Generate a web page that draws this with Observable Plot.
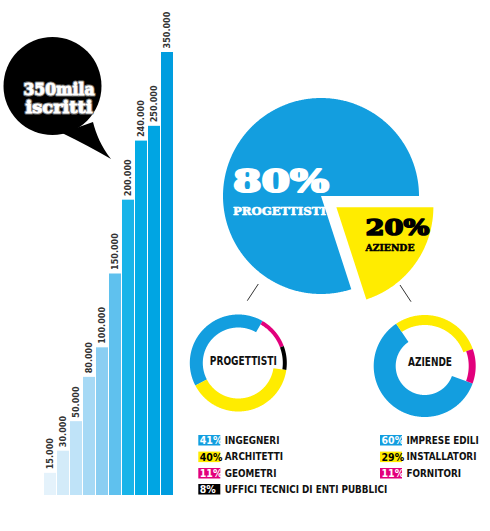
<!DOCTYPE html>
<html><head><meta charset="utf-8">
<script src="https://cdn.jsdelivr.net/npm/d3@7"></script>
<script src="https://cdn.jsdelivr.net/npm/@observablehq/plot@0.6"></script>
<style>
html,body{margin:0;padding:0;background:#fff;}
#wrap{position:relative;width:490px;height:531px;overflow:hidden;background:#fff;}
#wrap > svg{position:absolute;left:0;top:0;}
</style></head><body><div id="wrap"></div>
<script>
// ---------- DATA ----------
const barValues = [15000, 30000, 50000, 80000, 100000, 150000, 200000, 240000, 250000, 350000];
const headline = ["350mila", "iscritti"];
const pieLabels = ["PROGETTISTI", "AZIENDE"];
const pieValues = [80, 20];
const progLabels = ["INGEGNERI", "ARCHITETTI", "GEOMETRI", "UFFICI TECNICI DI ENTI PUBBLICI"];
const progValues = [41, 40, 11, 8];
const azLabels = ["IMPRESE EDILI", "INSTALLATORI", "FORNITORI"];
const azValues = [60, 29, 11];

// ---------- STYLE ----------
const BLUE = "#139edf", YELLOW = "#ffec00", MAGENTA = "#e2007c", BLACK = "#000000";
const barColors = ["#e4f2fb","#d3ebf9","#bfe3f8","#a6d9f5","#8acef2","#5fc1ee","#18b4e9","#03ace6","#00a5e3","#009ddf"];
const NARROW = "'Liberation Sans Narrow','DejaVu Sans Condensed',sans-serif";
const SLAB = "'DejaVu Serif',serif";
const progColors = [BLUE, YELLOW, MAGENTA, BLACK];
const progRing = [13, 13, 4, 4];
const progOrder = [0, 2, 3, 1];
const azColors = [BLUE, YELLOW, MAGENTA];
const azRing = [22, 10, 7];
const azOrder = [0, 1, 2];
const badgeText = c => (c === YELLOW ? "#000" : "#fff");

const fmt = d3.formatLocale({decimal: ",", thousands: ".", grouping: [3], currency: ["", "€"]}).format(",d");
const wrap = document.getElementById("wrap");

// ---------- BARS ----------
const bars = barValues.map((v, i) => ({i, v, label: fmt(v)}));
const barPlot = Plot.plot({
  width: 190, height: 531,
  marginLeft: 41, marginRight: 14.5, marginTop: 52, marginBottom: 36,
  x: {type: "band", domain: d3.range(barValues.length), paddingInner: 0.1, paddingOuter: 0, axis: null},
  y: {domain: [0, 300000], clamp: true, axis: null},
  color: {type: "identity"},
  style: {background: "none", overflow: "visible"},
  marks: [
    Plot.barY(bars, {x: "i", y: "v", fill: d => barColors[d.i]}),
    Plot.text(bars, {x: "i", y: "v", text: "label", rotate: -90, textAnchor: "start", lineAnchor: "middle",
      dy: -4, fontSize: 9, fontWeight: "bold", fontFamily: NARROW, fill: "#333"})
  ]
});
wrap.appendChild(barPlot);

// ---------- PIE & DONUTS (geometry derived from values) ----------
function arcRows(id, segs, startDeg, cx, cy) {
  const total = d3.sum(segs, s => s.value);
  let a = startDeg;
  const rows = [];
  segs.forEach((s, k) => {
    const a0 = a, a1 = a + 360 * s.value / total; a = a1;
    const mid = (a0 + a1) / 2 * Math.PI / 180;
    const ex = s.explode || 0;
    const ox = cx + ex * Math.sin(mid), oy = cy - ex * Math.cos(mid);
    const n = Math.max(2, Math.ceil((a1 - a0) / 0.5));
    for (let j = 0; j <= n; j++) {
      const t = (a0 + (a1 - a0) * j / n) * Math.PI / 180;
      rows.push({key: id + k, color: s.color,
        x1: ox + s.ro * Math.sin(t), y1: oy - s.ro * Math.cos(t),
        x2: ox + s.ri * Math.sin(t), y2: oy - s.ri * Math.cos(t)});
    }
  });
  return rows;
}
const PIE = {cx: 321, cy: 196, r: 98};
const pieRows = arcRows("pie", [
  {value: pieValues[0], color: BLUE, ro: PIE.r, ri: 0, explode: 0},
  {value: pieValues[1], color: YELLOW, ro: PIE.r - 1, ri: 0, explode: 19}
], 162, PIE.cx, PIE.cy);
const D1 = {cx: 238.3, cy: 363, r: 48.5};
const progRows = arcRows("prog", progOrder.map(i => ({value: progValues[i], color: progColors[i], ro: D1.r, ri: D1.r - progRing[i]})), 242.4, D1.cx, D1.cy);
const D2 = {cx: 424.7, cy: 366, r: 51};
const azRows = arcRows("az", azOrder.map(i => ({value: azValues[i], color: azColors[i], ro: D2.r, ri: D2.r - azRing[i]})), 110, D2.cx, D2.cy);

const circPlot = Plot.plot({
  width: 490, height: 531, margin: 0,
  x: {type: "identity", axis: null}, y: {type: "identity", axis: null},
  color: {type: "identity"},
  style: {background: "none"},
  marks: [
    Plot.area(pieRows.concat(progRows, azRows), {x1: "x1", y1: "y1", x2: "x2", y2: "y2", z: "key", fill: "color"})
  ]
});
wrap.appendChild(circPlot);

// ---------- ANNOTATIONS ----------
const svg = d3.select(wrap).append("svg").attr("width", 490).attr("height", 531);
// bubble
svg.append("circle").attr("cx", 52.5).attr("cy", 86).attr("r", 49).attr("fill", "#000");
svg.append("path").attr("d", "M62 133 C80 142 96 150 111 159 C101 146 96 134 93 122 Z").attr("fill", "#000");
function heavy(x, y, str, size, len, fill, strokeOut, swOut, swIn) {
  const g = svg.append("g").attr("font-family", SLAB).attr("font-weight", "bold").attr("font-size", size);
  if (strokeOut) g.append("text").attr("x", x).attr("y", y).attr("textLength", len).attr("lengthAdjust", "spacingAndGlyphs")
    .attr("fill", strokeOut).attr("stroke", strokeOut).attr("stroke-width", swOut).attr("stroke-linejoin", "round").text(str);
  g.append("text").attr("x", x).attr("y", y).attr("textLength", len).attr("lengthAdjust", "spacingAndGlyphs")
    .attr("fill", fill).attr("stroke", fill).attr("stroke-width", swIn).attr("stroke-linejoin", "round").text(str);
}
heavy(23.5, 95, headline[0], 17.5, 71, "#fff", "#777", 3.2, 0.9);
heavy(25.5, 113, headline[1], 17.5, 67, "#fff", "#777", 3.2, 0.9);

// pie labels
function t(x, y, str, size, len, fill, fam, anchor) {
  return svg.append("text").attr("x", x).attr("y", y).attr("font-size", size).attr("font-weight", "bold")
    .attr("font-family", fam).attr("fill", fill).attr("text-anchor", anchor || "start")
    .attr("textLength", len).attr("lengthAdjust", "spacingAndGlyphs").text(str);
}
heavy(233, 192, pieValues[0] + "%", 32, 96, "#fff", null, 0, 2.2);
heavy(233, 215, pieLabels[0], 11.5, 93, "#fff", null, 0, 0.6);
heavy(365.5, 235, pieValues[1] + "%", 22.5, 64, "#000", null, 0, 1.6);
heavy(365.5, 250.5, pieLabels[1], 9.2, 49, "#000", null, 0, 0.5);

// connectors
svg.append("line").attr("x1", 258.3).attr("y1", 284).attr("x2", 247.3).attr("y2", 300.7).attr("stroke", "#333").attr("stroke-width", 1);
svg.append("line").attr("x1", 400).attr("y1", 285).attr("x2", 411).attr("y2", 301.7).attr("stroke", "#333").attr("stroke-width", 1);

// donut center labels
t(243.3, 365, pieLabels[0], 13, 67, "#111", NARROW, "middle");
t(430, 366, pieLabels[1], 13, 44, "#111", NARROW, "middle");

// legends
function legend(x0, labels, values, colors) {
  const rowY = [440, 456.6, 473, 489];
  labels.forEach((lab, i) => {
    const y = rowY[i];
    svg.append("rect").attr("x", x0).attr("y", y - 5).attr("width", 22).attr("height", 10.5).attr("fill", colors[i]);
    svg.append("text").attr("x", x0 + 1.5).attr("y", y + 4).attr("font-size", 10.5).attr("font-weight", "bold")
      .attr("font-family", NARROW).attr("fill", badgeText(colors[i])).text(values[i] + "%");
    svg.append("text").attr("x", x0 + 26.5).attr("y", y + 3.6).attr("font-size", 9.8).attr("font-weight", "bold")
      .attr("font-family", NARROW).attr("fill", "#111").text(lab);
  });
}
legend(198.3, progLabels, progValues, progColors);
legend(380, azLabels, azValues, azColors);
</script></body></html>
